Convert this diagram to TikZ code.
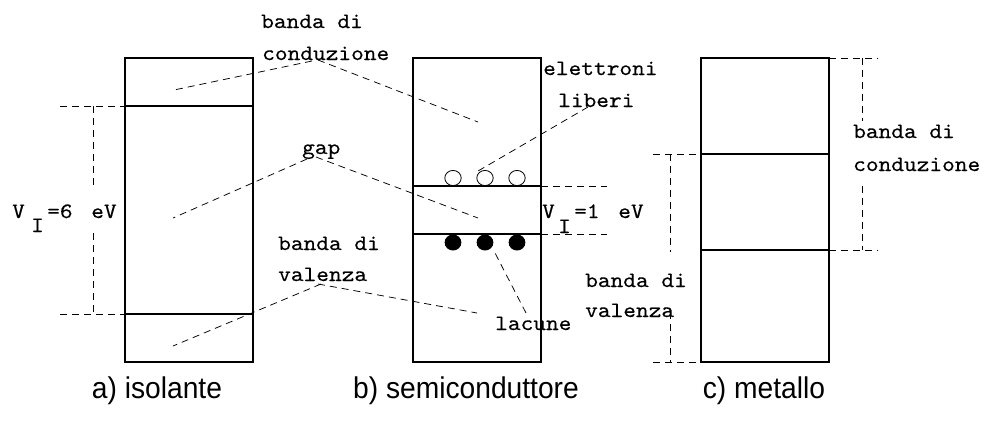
\documentclass[tikz,border=0pt]{standalone}
\usepackage{fontspec}
\newfontfamily\monofam{lmmono10-regular.otf}[FakeStretch=1.1,FakeBold=0.25]
\newfontfamily\capfam{Liberation Sans}[FakeStretch=0.94]
\tikzset{
  bandbox/.style={line width=1.7pt},
  leader/.style={dash pattern=on 7pt off 5pt, line width=0.75pt},
  mono/.style={font=\monofam\fontsize{22}{26}\selectfont, inner sep=0pt, anchor=base west},
  capt/.style={font=\capfam\fontsize{30}{34}\selectfont, inner sep=0pt, anchor=base},
  hole/.style={line width=0.8pt}
}
\begin{document}
\begin{tikzpicture}[x=1pt,y=-1pt]
\useasboundingbox (0,0) rectangle (985,432);
% boxes
\draw[bandbox] (125,58) rectangle (253,362);
\draw[bandbox] (125,106) -- (253,106);
\draw[bandbox] (125,314) -- (253,314);
\draw[bandbox] (413,58) rectangle (541,362);
\draw[bandbox] (413,186) -- (541,186);
\draw[bandbox] (413,234) -- (541,234);
\draw[bandbox] (701,58) rectangle (829,362);
\draw[bandbox] (701,154) -- (829,154);
\draw[bandbox] (701,250) -- (829,250);
% electrons and holes
\foreach \x in {453,485,517} {
  \draw[hole] (\x,178) circle [x radius=8.2, y radius=7.6];
  \fill (\x,242.5) circle [x radius=8.4, y radius=8];
}
% dimension lines
\draw[leader] (60,106) -- (125,106);
\draw[leader] (93,106) -- (93,187);
\draw[leader] (93,233) -- (93,314);
\draw[leader] (60,314) -- (125,314);
\draw[leader] (541,186) -- (607,186);
\draw[leader] (541,234) -- (607,234);
\draw[leader] (829,58) -- (878,58);
\draw[leader] (862,58) -- (862,121);
\draw[leader] (862,186) -- (862,250);
\draw[leader] (829,250) -- (878,250);
\draw[leader] (653,154) -- (701,154);
\draw[leader] (670,154) -- (670,252);
\draw[leader] (670,312) -- (670,362);
\draw[leader] (653,362) -- (701,362);
% texts
\node[mono] (tc1) at (261,28) {banda di};
\node[mono] (tc2) at (262,60) {conduzione};
\node[mono] (tgap) at (302,154) {gap};
\node[mono] (tv1) at (278,250) {banda di};
\node[mono] (tv2) at (278,281) {valenza};
\node[mono] (te1) at (543,75) {elettroni};
\node[mono] (te2) at (558,107) {liberi};
\node[mono] (tlac) at (495,330) {lacune};
\node[mono] (tmc1) at (853,138) {banda di};
\node[mono] (tmc2) at (853,171) {conduzione};
\node[mono] (tmv1) at (585,287) {banda di};
\node[mono] (tmv2) at (585,317) {valenza};
\node[mono] (vA) at (12,218) {V};
\node[mono] (iA) at (31,232) {I};
\node[mono] (eA) at (47,218) {=6\hspace{6pt} eV};
\node[mono] (vB) at (542,218) {V};
\node[mono] (iB) at (558,233) {I};
\node[mono] (eB) at (574,218) {=1\hspace{6pt} eV};
\node[capt] (la) at (157,398) {a) isolante};
\node[capt] (lb) at (466,398) {b) semiconduttore};
\node[capt] (lc) at (764,398) {c) metallo};
% leader coordinates
\coordinate (cL) at (312,61);
\coordinate (cR) at (318,60);
\coordinate (cA) at (174,90);
\coordinate (cB) at (478,122);
\coordinate (gL) at (307,159);
\coordinate (gR) at (316,157);
\coordinate (gA) at (173,218);
\coordinate (gB) at (478,218);
\coordinate (vL) at (321,284);
\coordinate (vR) at (318,284);
\coordinate (vAa) at (173,346);
\coordinate (vBb) at (477,313);
\coordinate (eL) at (588,107);
\coordinate (eI) at (478,171);
\coordinate (lL) at (526,313);
\coordinate (lI) at (494,251);
\draw[leader] (cL) -- (cA);
\draw[leader] (cR) -- (cB);
\draw[leader] (gL) -- (gA);
\draw[leader] (gR) -- (gB);
\draw[leader] (vL) -- (vAa);
\draw[leader] (vR) -- (vBb);
\draw[leader] (eL) -- (eI);
\draw[leader] (lL) -- (lI);
\end{tikzpicture}
\end{document}
